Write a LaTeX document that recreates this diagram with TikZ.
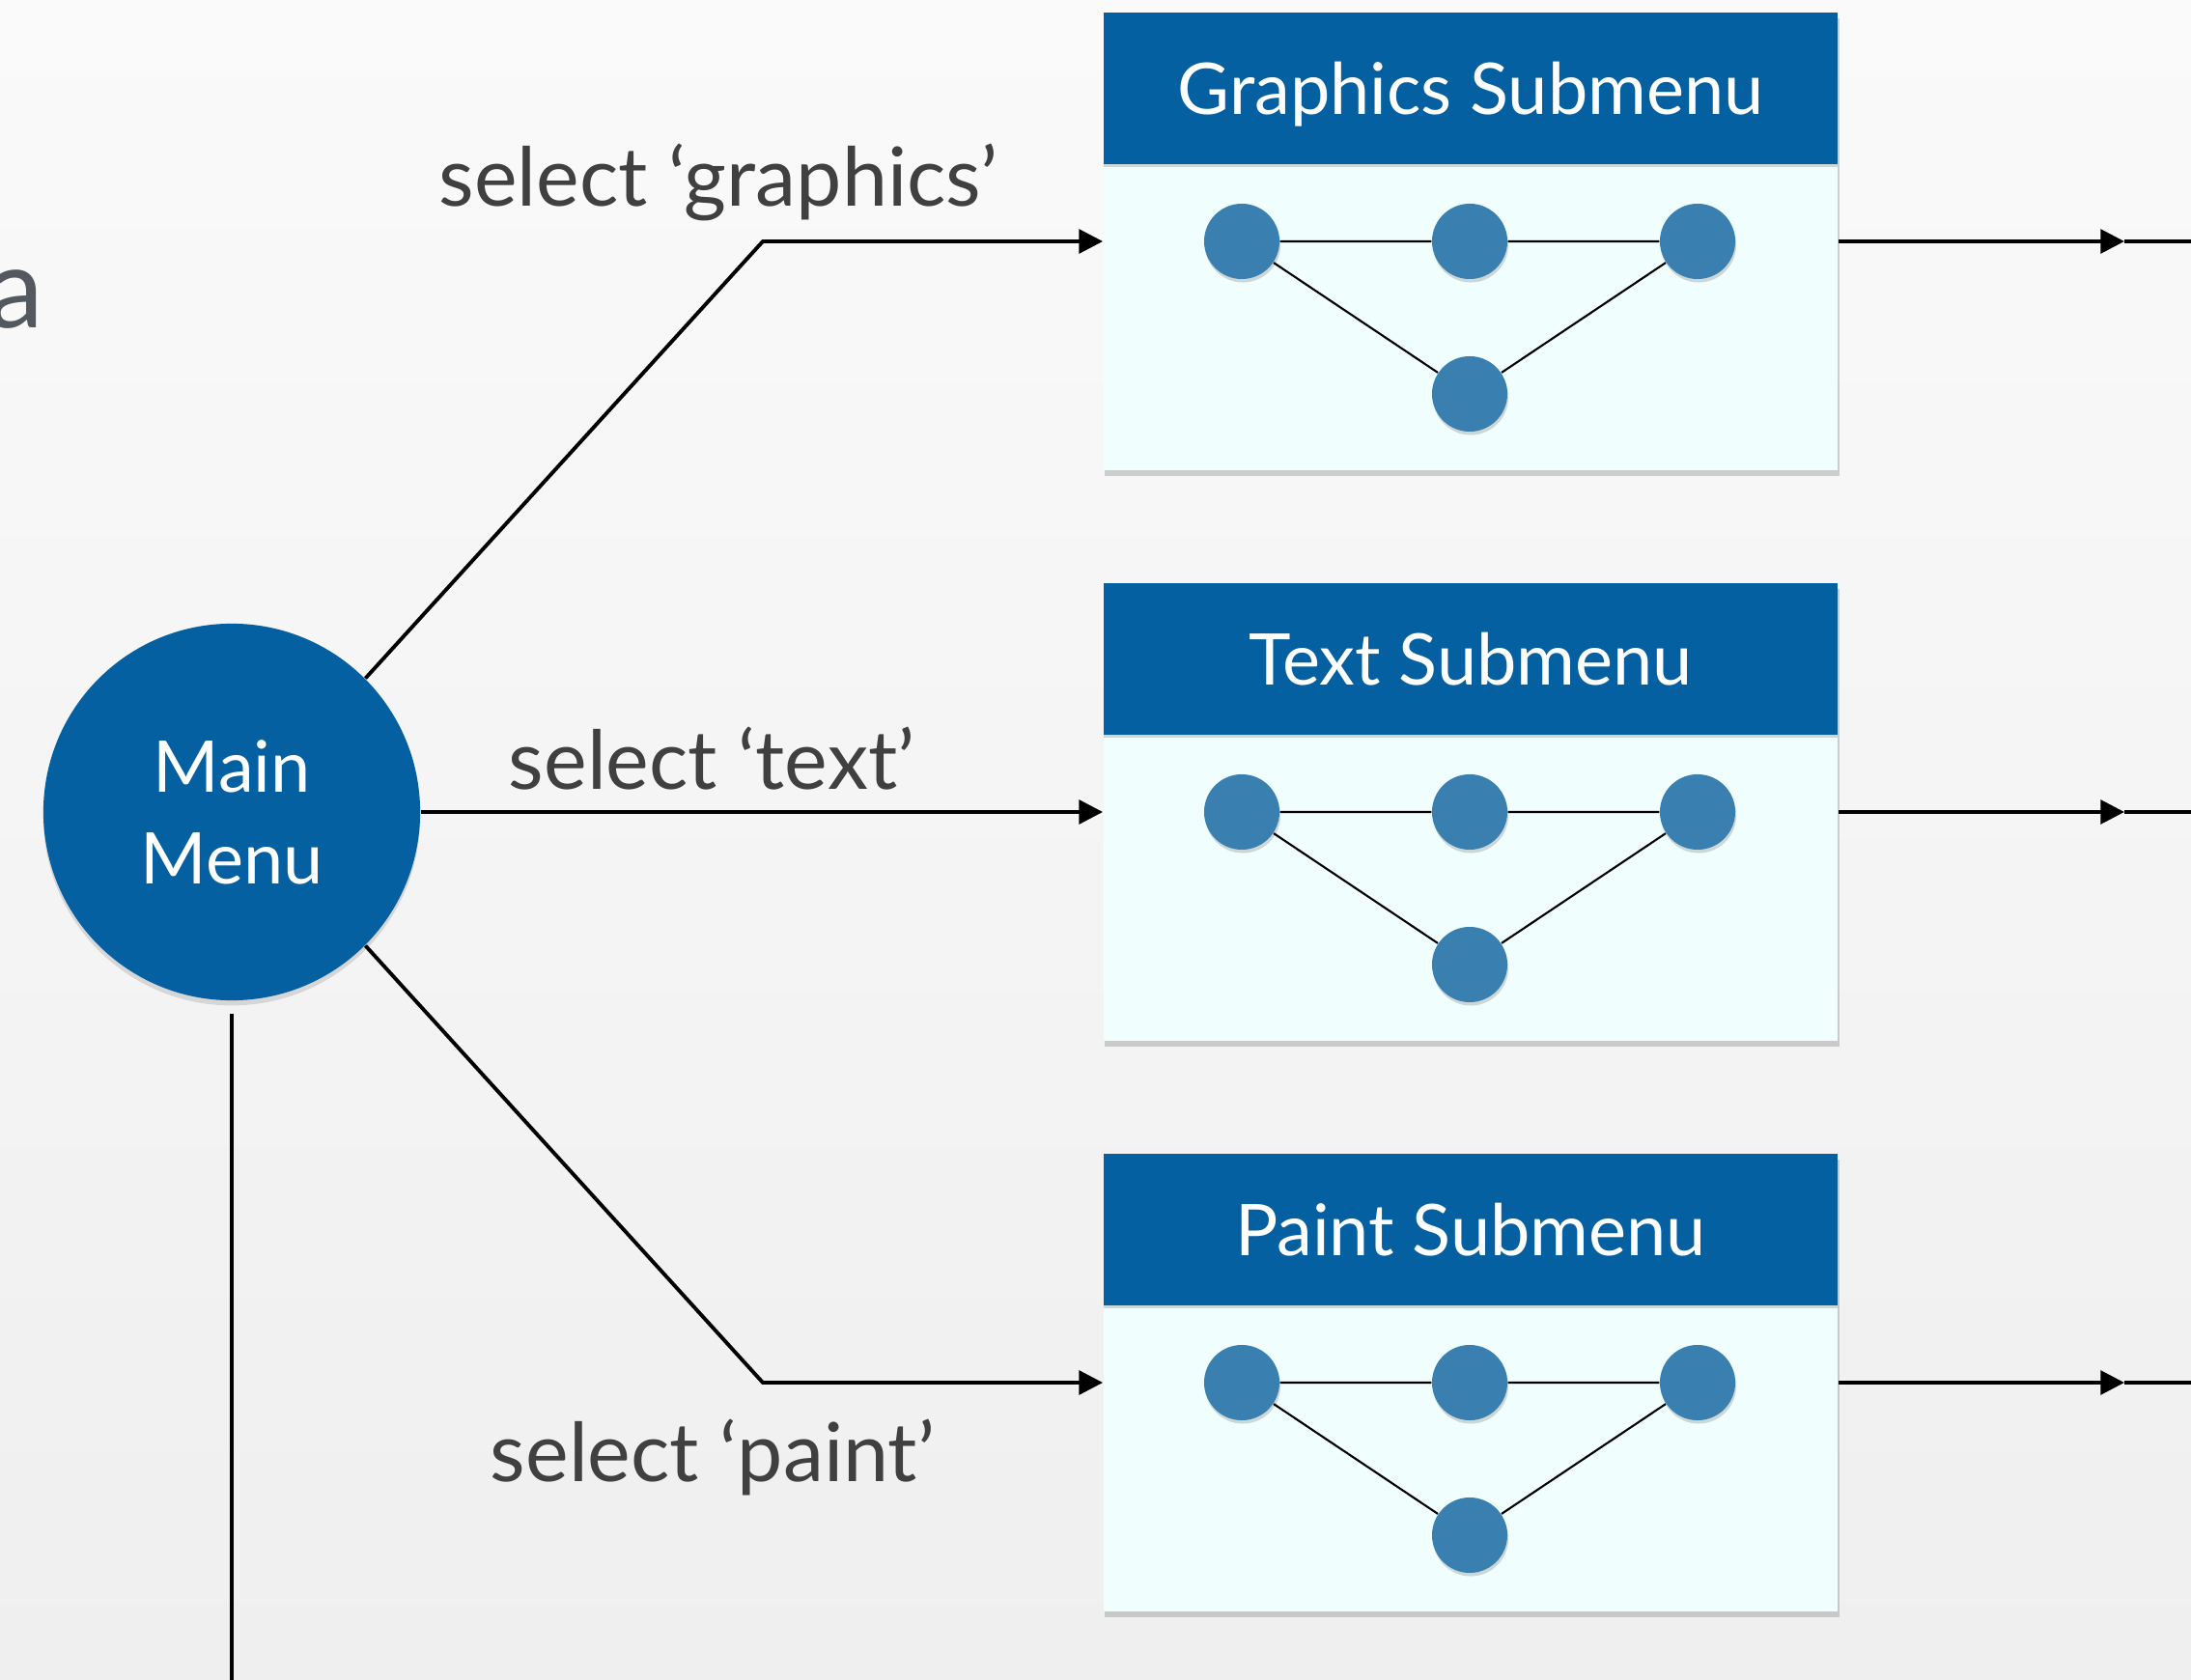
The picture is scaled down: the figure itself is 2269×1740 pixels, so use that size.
\documentclass[tikz,border=0pt]{standalone}
\usepackage{fontspec}
\setmainfont{Lato}
\usepackage{tikz}
\usetikzlibrary{shadows}
\usetikzlibrary{arrows.meta}
\definecolor{menublue}{RGB}{4,96,161}
\definecolor{dotblue}{RGB}{57,127,176}
\definecolor{panelfill}{RGB}{240,254,254}
\definecolor{labelgray}{RGB}{64,64,64}
\definecolor{agray}{RGB}{84,89,96}
\definecolor{bgtop}{RGB}{250,250,250}
\definecolor{bgbottom}{RGB}{239,239,239}
\tikzstyle{mainmenu}=[circle,fill=menublue,text=white,minimum size=3.9cm,inner sep=0pt,align=center,font=\fontsize{21}{27}\selectfont,drop shadow={opacity=0.25,shadow xshift=0pt,shadow yshift=-1.5pt}]
\tikzstyle{panel}=[rectangle,fill=panelfill,minimum width=7.6cm,minimum height=4.74cm,inner sep=0pt,drop shadow={opacity=0.35,shadow xshift=0.4pt,shadow yshift=-1.8pt}]
\tikzstyle{header}=[rectangle,fill=menublue,text=white,minimum width=7.6cm,minimum height=1.57cm,inner sep=0pt,text depth=0pt,font=\fontsize{21}{27}\selectfont,drop shadow={opacity=0.3,shadow xshift=0pt,shadow yshift=-1pt}]
\tikzstyle{dot}=[circle,fill=dotblue,minimum size=0.78cm,inner sep=0pt,drop shadow={opacity=0.3,shadow xshift=0.3pt,shadow yshift=-1pt}]
\tikzstyle{edge}=[draw,line width=1.1pt]
\tikzstyle{arrowedge}=[draw,line width=1.1pt,-{Triangle[length=7pt,width=7pt]}]
\tikzstyle{graphedge}=[draw,line width=0.6pt]
\tikzstyle{choice}=[text=labelgray,font=\fontsize{24}{28}\selectfont,anchor=base,inner sep=0pt]

\begin{document}
\begin{tikzpicture}[x=0.01cm,y=-0.01cm]
    \useasboundingbox (0,0) rectangle (2269,1740);
    \shade[top color=bgtop,bottom color=bgbottom] (0,0) rectangle (2269,1740);

    % cut off title letter
    \node[anchor=base east,text=agray,font=\fontsize{33}{36}\selectfont,inner sep=0pt] (title) at (46,340) {a};

    % main menu
    \node[mainmenu] (main) at (240,841) {Main\\Menu};

    % the three submenus with their little graphs
    \foreach \y/\name/\title in {250/g/Graphics Submenu, 841/t/Text Submenu, 1432/p/Paint Submenu} {
        \node[panel] (box\name) at (1523,\y) {};
        \node[header,anchor=north] (head\name) at (box\name.north) {\title};
        \node[dot] (\name1) at (1286,\y) {};
        \node[dot] (\name2) at (1522,\y) {};
        \node[dot] (\name3) at (1758,\y) {};
        \node[dot] (\name4) at (1522,\y+158) {};
        \path[graphedge] (\name1) -- (\name2) -- (\name3) -- (\name4) -- (\name1);
        \coordinate (out\name) at (2200,\y);
        \coordinate (end\name) at (2269,\y);
        \path[arrowedge] (box\name.east) -- (out\name);
        \path[edge] (out\name) -- (end\name);
    }

    % connect main menu with submenus
    \coordinate (gbend) at (790,250);
    \coordinate (pbend) at (790,1432);
    \path[arrowedge] (main.45) -- (gbend) -- (boxg.west);
    \path[arrowedge] (main.east) -- (boxt.west);
    \path[arrowedge] (main.-45) -- (pbend) -- (boxp.west);
    \coordinate (down) at (240,1740);
    \path[edge] ([yshift=-0.13cm]main.south) -- (down);

    \node[choice] (selgraphics) at (744,214) {select ‘graphics’};
    \node[choice] (seltext) at (737,818) {select ‘text’};
    \node[choice] (selpaint) at (738,1534) {select ‘paint’};
\end{tikzpicture}
\end{document}
